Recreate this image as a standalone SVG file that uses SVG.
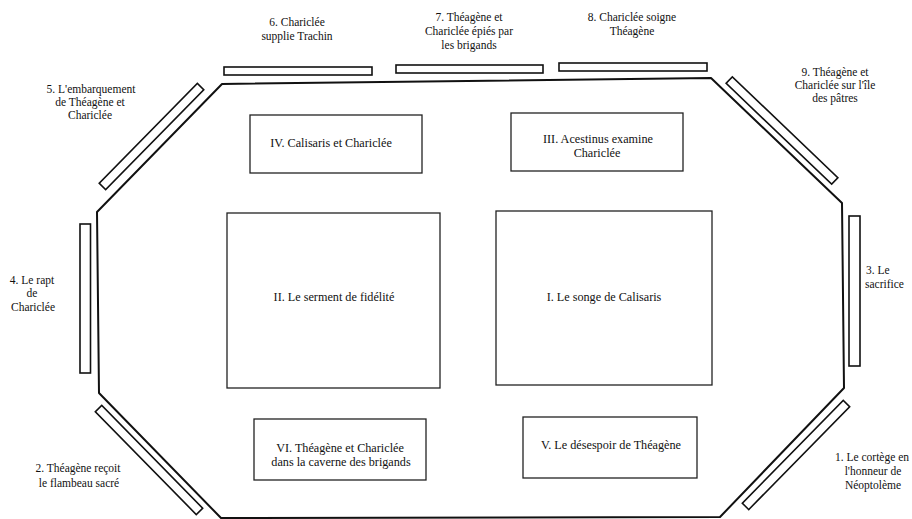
<svg xmlns="http://www.w3.org/2000/svg" width="912" height="519" viewBox="0 0 912 519">
<style>
.t text{font-size:11.5px;fill:#111;text-anchor:middle}
.t .p text{font-size:12.2px}
.wall{fill:none;stroke:#111;stroke-width:2;stroke-linejoin:round}
.bar{fill:#fff;stroke:#111;stroke-width:1.6}
.box{fill:#fff;stroke:#222;stroke-width:1.3}
</style>
<rect width="912" height="519" fill="#fff"/>
<g id="hall">
<polygon class="wall" points="222,84 711,78 842,203 844,388 720,517 221,518 99,393 97,212"/>
</g>
<g id="connectors"/>
<g class="t" font-family="'Liberation Serif', 'Times New Roman', serif">
<g id="scene-1">
<rect class="bar" x="-72" y="-4.5" width="144" height="9" transform="translate(796,455) rotate(-45.5)"/>
<text x="872" y="461">1. Le cortège en</text>
<text x="873" y="475">l'honneur de</text>
<text x="873" y="489">Néoptolème</text>
</g>
<g id="scene-2">
<rect class="bar" x="-72" y="-4.5" width="144" height="9" transform="translate(149,460) rotate(45.5)"/>
<text x="78" y="472">2. Théagène reçoit</text>
<text x="79" y="487">le flambeau sacré</text>
</g>
<g id="scene-3">
<rect class="bar" x="849" y="216" width="11" height="150"/>
<text x="866" y="274" style="text-anchor:start">3. Le</text>
<text x="865" y="288" style="text-anchor:start">sacrifice</text>
</g>
<g id="scene-4">
<rect class="bar" x="80" y="224" width="10.5" height="149"/>
<text x="32" y="284">4. Le rapt</text>
<text x="32" y="297">de</text>
<text x="33" y="311">Chariclée</text>
</g>
<g id="scene-5">
<rect class="bar" x="-70" y="-4.5" width="140" height="9" transform="translate(151.5,136.5) rotate(-45.5)"/>
<text x="91" y="93">5. L'embarquement</text>
<text x="90" y="106">de Théagène et</text>
<text x="90" y="119">Chariclée</text>
</g>
<g id="scene-6">
<rect class="bar" x="224" y="67" width="148" height="8"/>
<text x="297" y="26">6. Chariclée</text>
<text x="297" y="40">supplie Trachin</text>
</g>
<g id="scene-7">
<rect class="bar" x="396" y="65" width="147" height="8"/>
<text x="469" y="21">7. Théagène et</text>
<text x="469" y="35">Chariclée épiés par</text>
<text x="469" y="49">les brigands</text>
</g>
<g id="scene-8">
<rect class="bar" x="559" y="63" width="148" height="8"/>
<text x="632" y="21">8. Chariclée soigne</text>
<text x="632" y="35">Théagène</text>
</g>
<g id="scene-9">
<rect class="bar" x="-73" y="-4.5" width="146" height="9" transform="translate(782,130.5) rotate(43.7)"/>
<text x="835" y="76">9. Théagène et</text>
<text x="835" y="89">Chariclée sur l'île</text>
<text x="835" y="102">des pâtres</text>
</g>
<g class="p">
<g id="panel-I">
<rect class="box" x="496" y="211" width="216" height="174"/>
<text x="604" y="301">I. Le songe de Calisaris</text>
</g>
<g id="panel-II">
<rect class="box" x="227" y="213" width="213" height="175"/>
<text x="334" y="301">II. Le serment de fidélité</text>
</g>
<g id="panel-III">
<rect class="box" x="511" y="113" width="172" height="58"/>
<text x="598" y="143">III. Acestinus examine</text>
<text x="597" y="157">Chariclée</text>
</g>
<g id="panel-IV">
<rect class="box" x="250" y="115" width="172" height="58"/>
<text x="331" y="147">IV. Calisaris et Chariclée</text>
</g>
<g id="panel-V">
<rect class="box" x="523" y="417" width="174" height="61"/>
<text x="611" y="449">V. Le désespoir de Théagène</text>
</g>
<g id="panel-VI">
<rect class="box" x="254" y="419" width="172" height="61"/>
<text x="340" y="452">VI. Théagène et Chariclée</text>
<text x="341" y="466">dans la caverne des brigands</text>
</g>
</g>
</g>
</svg>
